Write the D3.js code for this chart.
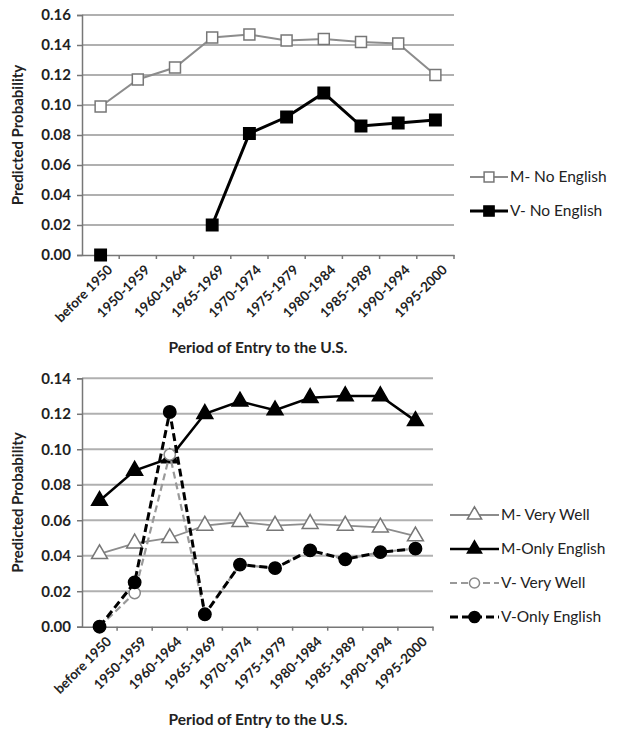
<!DOCTYPE html>
<html>
<head>
<meta charset="utf-8">
<script src="https://cdn.jsdelivr.net/npm/d3@7"></script>
<style>
  body { margin: 0; background: #fff; }
  svg text { font-family: Lato, "Open Sans", sans-serif; fill: #222; }
</style>
</head>
<body>
<svg width="618" height="732"></svg>
<script>
var periods = ["before 1950","1950-1959","1960-1964","1965-1969","1970-1974","1975-1979","1980-1984","1985-1989","1990-1994","1995-2000"];

// top panel
var mNoEnglish = [0.099,0.117,0.125,0.145,0.147,0.143,0.144,0.142,0.141,0.120];
var vNoEnglish = [0.000,null,null,0.020,0.081,0.092,0.108,0.086,0.088,0.090];
var topTicks = [0,0.02,0.04,0.06,0.08,0.10,0.12,0.14,0.16];

// bottom panel
var mVeryWell    = [0.041,0.047,0.050,0.057,0.059,0.057,0.058,0.057,0.056,0.051];
var mOnlyEnglish = [0.071,0.088,0.095,0.120,0.127,0.122,0.129,0.130,0.130,0.116];
var vVeryWell    = [0.000,0.019,0.097,0.007,0.035,0.033,0.043,0.038,0.042,0.044];
var vOnlyEnglish = [0.000,0.025,0.121,0.007,0.035,0.033,0.043,0.038,0.042,0.044];
var bottomTicks = [0,0.02,0.04,0.06,0.08,0.10,0.12,0.14];

var svg = d3.select("svg");

function panel(opt){
  var x = d3.scaleBand().domain(periods).range([82, opt.right]);
  var y = d3.scaleLinear().domain([0, opt.max]).range([opt.bottom, opt.top]);
  var g = svg.append("g");

  // gridlines
  g.selectAll(".grid").data(opt.ticks.slice(1)).enter().append("line")
    .attr("x1", 82).attr("x2", opt.right)
    .attr("y1", function(d){ return y(d); }).attr("y2", function(d){ return y(d); })
    .attr("stroke", "#b0b0b0").attr("stroke-width", 2);

  // y axis
  var yAxis = g.append("g").attr("transform", "translate(82,0)")
    .call(d3.axisLeft(y).tickValues(opt.ticks).tickFormat(d3.format(".2f")).tickSize(5).tickPadding(6));
  yAxis.select(".domain").attr("stroke", "#777").attr("stroke-width", 1.5);
  yAxis.selectAll(".tick line").attr("stroke", "#777").attr("stroke-width", 1.5);
  yAxis.selectAll("text").style("font-size", "15px").style("font-weight", "bold").attr("fill", "#333");

  // x axis
  var xAxis = g.append("g").attr("transform", "translate(0," + opt.bottom + ")")
    .call(d3.axisBottom(x).tickSize(0).tickFormat(""));
  xAxis.select(".domain").attr("stroke", "#777").attr("stroke-width", 1.5);
  g.selectAll(".xt").data(periods.slice(1).concat(["end"])).enter().append("line")
    .attr("x1", function(d,i){ return 82 + x.step()*(i+1); })
    .attr("x2", function(d,i){ return 82 + x.step()*(i+1); })
    .attr("y1", opt.bottom).attr("y2", opt.bottom + 4)
    .attr("stroke", "#777").attr("stroke-width", 1.5);

  g.selectAll(".xl").data(periods).enter().append("text")
    .attr("transform", function(d){
      return "translate(" + (x(d) + x.bandwidth()/2 + 6) + "," + (opt.bottom + 9) + ") rotate(-45)";
    })
    .attr("text-anchor", "end")
    .attr("dy", "0.7em")
    .style("font-size", "13.5px").style("font-weight", "bold")
    .text(function(d){ return d; });

  g.append("text")
    .attr("x", 258).attr("y", opt.bottom + 98)
    .attr("text-anchor", "middle")
    .style("font-size", "15.5px").style("font-weight", "bold")
    .text("Period of Entry to the U.S.");

  g.append("text")
    .attr("transform", "translate(23," + ((opt.top + opt.bottom)/2) + ") rotate(-90)")
    .attr("text-anchor", "middle")
    .style("font-size", "15px").style("font-weight", "bold")
    .text("Predicted Probability");

  return {x: x, y: y, g: g};
}

function drawSeries(p, values, s){
  var cx = function(i){ return p.x(periods[i]) + p.x.bandwidth()/2; };
  var line = d3.line()
    .defined(function(d){ return d !== null; })
    .x(function(d, i){ return cx(i); })
    .y(function(d){ return p.y(d); });
  p.g.append("path").datum(values)
    .attr("d", line)
    .attr("fill", "none")
    .attr("stroke", s.color)
    .attr("stroke-width", s.width)
    .attr("stroke-dasharray", s.dash || null);
  var pts = values.map(function(v, i){ return {v: v, i: i}; }).filter(function(d){ return d.v !== null; });
  p.g.selectAll(null).data(pts).enter().append("path")
    .attr("transform", function(d){ return "translate(" + cx(d.i) + "," + p.y(d.v) + ")"; })
    .attr("d", d3.symbol().type(s.symbol).size(s.size))
    .attr("fill", s.fill)
    .attr("stroke", s.stroke)
    .attr("stroke-width", 1.5);
}

function legend(items, lx, ly, gap){
  items.forEach(function(s, i){
    var yy = ly + i*gap;
    var lg = svg.append("g").attr("transform", "translate(" + lx + "," + yy + ")");
    lg.append("line").attr("x1", 0).attr("x2", s.len).attr("y1", 0).attr("y2", 0)
      .attr("stroke", s.color).attr("stroke-width", s.width).attr("stroke-dasharray", s.dash || null);
    lg.append("path").attr("transform", "translate(" + (s.len/2) + ",0)")
      .attr("d", d3.symbol().type(s.symbol).size(s.size*0.8))
      .attr("fill", s.fill).attr("stroke", s.stroke).attr("stroke-width", 1.5);
    lg.append("text").attr("x", s.len + 2).attr("dy", "0.35em")
      .style("font-size", "15.5px")
      .text(s.name);
  });
}

// top chart
var pTop = panel({right: 454, bottom: 255, top: 15, max: 0.16, ticks: topTicks});
var sM = {name: "M- No English", color: "#8c8c8c", width: 2, symbol: d3.symbolSquare, size: 120, fill: "#fff", stroke: "#777", len: 38};
var sV = {name: "V- No English", color: "#000", width: 3, symbol: d3.symbolSquare, size: 130, fill: "#000", stroke: "#000", len: 38};
drawSeries(pTop, mNoEnglish, sM);
drawSeries(pTop, vNoEnglish, sV);
legend([sM, sV], 470, 177, 34);

// bottom chart
var pBot = panel({right: 433, bottom: 626.7, top: 378.3, max: 0.14, ticks: bottomTicks});
var s1 = {name: "M- Very Well", color: "#8c8c8c", width: 1.8, symbol: d3.symbolTriangle, size: 110, fill: "#fff", stroke: "#777", len: 49};
var s2 = {name: "M-Only English", color: "#000", width: 2.5, symbol: d3.symbolTriangle, size: 110, fill: "#000", stroke: "#000", len: 49};
var s3 = {name: "V- Very Well", color: "#999", width: 2.2, dash: "7,4", symbol: d3.symbolCircle, size: 100, fill: "#fff", stroke: "#888", len: 49};
var s4 = {name: "V-Only English", color: "#000", width: 3, dash: "8,4", symbol: d3.symbolCircle, size: 120, fill: "#000", stroke: "#000", len: 49};
drawSeries(pBot, mVeryWell, s1);
drawSeries(pBot, mOnlyEnglish, s2);
drawSeries(pBot, vVeryWell, s3);
drawSeries(pBot, vOnlyEnglish, s4);
legend([s1, s2, s3, s4], 450, 515, 34);
</script>
</body>
</html>
